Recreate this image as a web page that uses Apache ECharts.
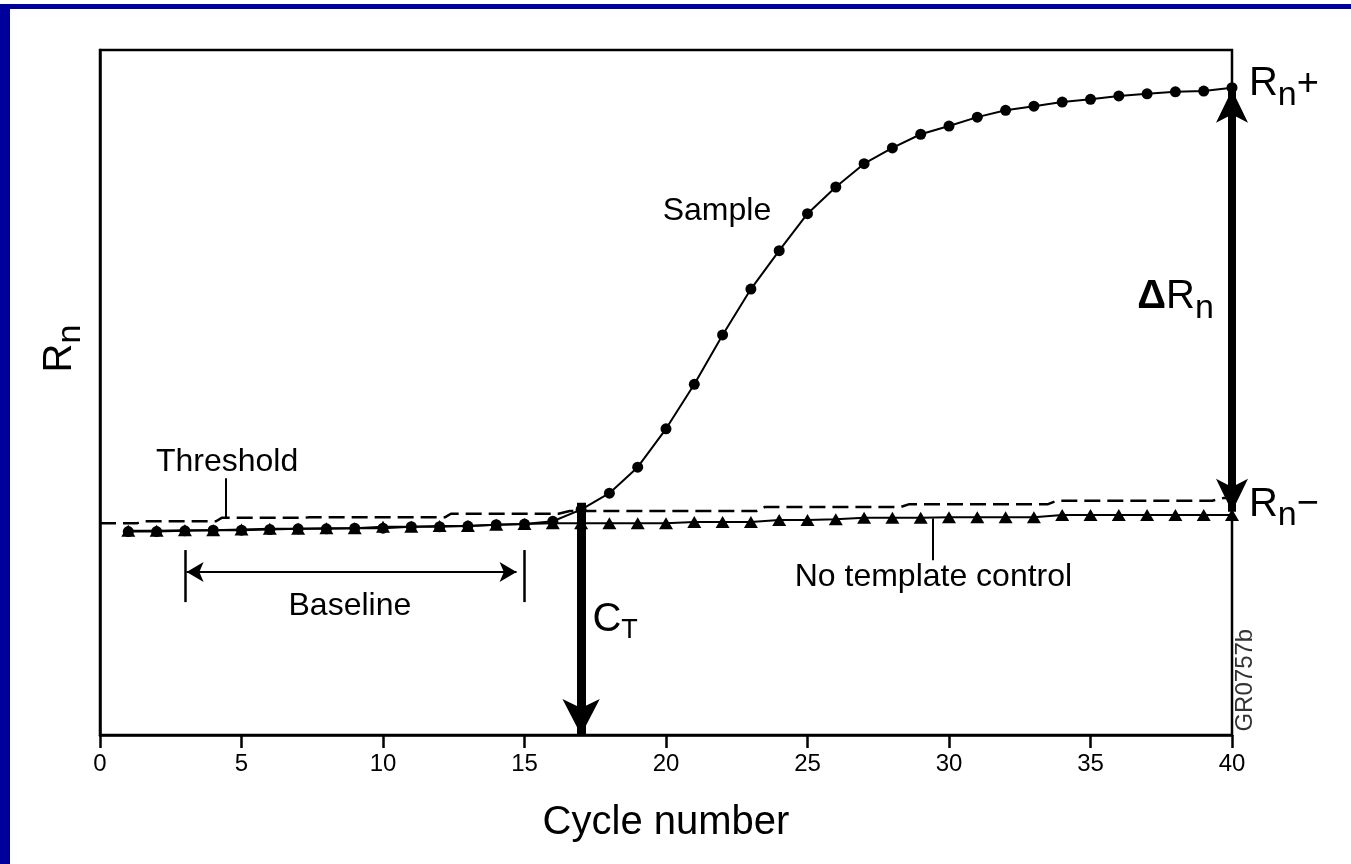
<!DOCTYPE html>
<html>
<head>
<meta charset="utf-8">
<title>Amplification plot</title>
<script src="https://cdn.jsdelivr.net/npm/echarts@6/dist/echarts.min.js"></script>
<style>
    html, body { margin: 0; padding: 0; background: #fff; }
    #chart { width: 1351px; height: 864px; }
</style>
</head>
<body>
<div id="chart"></div>
<script>
// cycle numbers and the two measured curves (Rn, arbitrary units 0-100)
var cycles = [1, 2, 3, 4, 5, 6, 7, 8, 9, 10, 11, 12, 13, 14, 15, 16, 17, 18, 19, 20,
    21, 22, 23, 24, 25, 26, 27, 28, 29, 30, 31, 32, 33, 34, 35, 36, 37, 38, 39, 40];
var sampleRn = [29.7, 29.7, 29.8, 29.9, 29.9, 30.0, 30.1, 30.1, 30.2, 30.2, 30.4, 30.4, 30.5, 30.7, 30.8,
    31.2, 32.9, 35.3, 39.1, 44.7, 51.2, 58.4, 65.1, 70.7, 76.1, 80.0, 83.4, 85.7, 87.7, 88.9,
    90.2, 91.2, 91.8, 92.4, 92.8, 93.3, 93.6, 93.9, 94.0, 94.5];
var ntcRn = [29.8, 29.8, 29.9, 29.9, 30.0, 30.1, 30.1, 30.2, 30.2, 30.4, 30.4, 30.5, 30.5, 30.7, 30.8,
    30.9, 30.9, 30.9, 30.9, 30.9, 31.1, 31.1, 31.1, 31.4, 31.4, 31.5, 31.7, 31.7, 31.7, 31.8,
    31.8, 31.8, 31.8, 32.1, 32.1, 32.1, 32.1, 32.1, 32.1, 32.1];

// threshold line (drawn slightly stepped in the original)
var thresholdCycle = [0, 1.3, 1.5, 4.1, 4.3, 7.2, 7.4, 12.2, 12.4, 16.2, 16.6, 23.2, 23.5, 28.3, 28.6, 33.5, 33.8, 39.3, 39.7, 40];
var thresholdRn = [30.9, 30.9, 31.2, 31.2, 31.7, 31.7, 31.8, 31.8, 32.3, 32.3, 32.7, 32.7, 33.3, 33.3, 33.7, 33.7, 34.2, 34.2, 34.6, 34.6];

// axis
var xMin = 0, xMax = 40, xStep = 5;

// annotation anchors
var ctCycle = 17;
var baselineStart = 3, baselineEnd = 15;

function zip(xs, ys) {
    return xs.map(function(x, i) { return [x, ys[i]]; });
}

var font = '"Liberation Sans", Arial, sans-serif';
var ink = '#000';
var txt = '#000';

var rich = {
    r: { fontSize: 40, color: txt, fontFamily: font },
    sub: { fontSize: 34, color: txt, fontFamily: font, padding: [22, 0, 0, 0] },
    sup: { fontSize: 38, color: txt, fontFamily: font },
    c: { fontSize: 40, color: txt, fontFamily: font },
    t: { fontSize: 27, color: txt, fontFamily: font, padding: [21, 0, 0, 0] },
    d: { fontSize: 40, color: txt, fontFamily: font, fontWeight: 'bold' }
};

function note(x, y, text, align, extra) {
    var label = {
        formatter: text,
        align: align || 'center',
        verticalAlign: 'middle'
    };
    for (var k in extra) label[k] = extra[k];
    return { value: [x, y], label: label };
}

var notes = [
    note(21.8, 76.4, 'Sample'),
    note(4.49, 39.9, 'Threshold'),
    note(8.83, 18.8, 'Baseline'),
    note(29.45, 23.1, 'No template control'),
    note(17.4, 16.8, '{c|C}{t|T}', 'left'),
    note(39.36, 63.9, '{d|Δ}{r|R}{sub|n}', 'right'),
    note(40.6, 95.0, '{r|R}{sub|n}{sup|+}', 'left'),
    note(40.6, 33.6, '{r|R}{sub|n}{sup|−}', 'left'),
    note(40.47, 8.0, 'GR0757b', 'center', { rotate: 90, fontSize: 24, color: '#333' })
];

function seg(x1, y1, x2, y2, width, s1, s2, size) {
    return [
        { coord: [x1, y1], symbol: s1 || 'none', symbolSize: size, lineStyle: { width: width } },
        { coord: [x2, y2], symbol: s2 || 'none', symbolSize: size }
    ];
}

var chart = echarts.init(document.getElementById('chart'));

var option = {
    animation: false,
    textStyle: { fontFamily: font, color: txt },
    graphic: [
        { type: 'rect', left: 0, top: 4, shape: { width: 1351, height: 5 }, style: { fill: '#00009c' } },
        { type: 'rect', left: 0, top: 4, shape: { width: 10, height: 860 }, style: { fill: '#00009c' } }
    ],
    grid: {
        left: 100, right: 119, top: 50, bottom: 129,
        show: true, borderColor: ink, borderWidth: 2.5, backgroundColor: 'transparent'
    },
    xAxis: {
        type: 'value', min: xMin, max: xMax, interval: xStep,
        name: 'Cycle number', nameLocation: 'middle', nameGap: 68,
        nameTextStyle: { fontSize: 40, color: txt },
        axisLine: { lineStyle: { color: ink, width: 2.5 } },
        axisTick: { length: 13, lineStyle: { color: ink, width: 2.5 } },
        axisLabel: { fontSize: 24, color: txt, margin: 17 },
        splitLine: { show: false }
    },
    yAxis: {
        type: 'value', min: 0, max: 100,
        name: '{r|R}{sub|n}', nameLocation: 'middle', nameGap: 12, nameRotate: 90,
        nameTextStyle: { rich: rich, padding: [0, 0, 0, 88] },
        axisLine: { show: true, lineStyle: { color: ink, width: 2.5 } },
        axisTick: { show: false },
        axisLabel: { show: false },
        splitLine: { show: false }
    },
    series: [
        {
            name: 'Threshold', type: 'line', data: zip(thresholdCycle, thresholdRn),
            symbol: 'none', z: 2,
            lineStyle: { color: ink, width: 2.5, type: [16, 7] },
            markLine: {
                silent: true, animation: false,
                label: { show: false },
                emphasis: { disabled: true },
                lineStyle: { color: ink, type: 'solid', width: 2 },
                data: [
                    seg(ctCycle, 33.9, ctCycle, 0, 9, 'none', 'arrow', [28, 36]),
                    seg(40, 32.6, 40, 94.2, 8, 'arrow', 'arrow', [24, 33]),
                    seg(3.06, 23.8, 14.72, 23.8, 2, 'arrow', 'arrow', [15, 17]),
                    seg(baselineStart, 27.0, baselineStart, 19.4, 2.5),
                    seg(baselineEnd, 27.0, baselineEnd, 19.4, 2.5),
                    seg(4.45, 37.5, 4.45, 31.6, 2),
                    seg(29.43, 31.6, 29.43, 25.5, 2)
                ]
            }
        },
        {
            name: 'No template control', type: 'line', data: zip(cycles, ntcRn),
            symbol: 'triangle', symbolSize: [14, 12], z: 3,
            itemStyle: { color: ink },
            lineStyle: { color: ink, width: 2 }
        },
        {
            name: 'Sample', type: 'line', data: zip(cycles, sampleRn),
            symbol: 'circle', symbolSize: 11, z: 4,
            itemStyle: { color: ink },
            lineStyle: { color: ink, width: 2 }
        },
        {
            name: 'notes', type: 'scatter', data: notes, symbolSize: 0, clip: false, z: 5,
            silent: true,
            itemStyle: { opacity: 1 },
            label: {
                show: true, position: 'inside', fontSize: 32, color: txt, rich: rich
            }
        }
    ]
};

chart.setOption(option);
</script>
</body>
</html>
